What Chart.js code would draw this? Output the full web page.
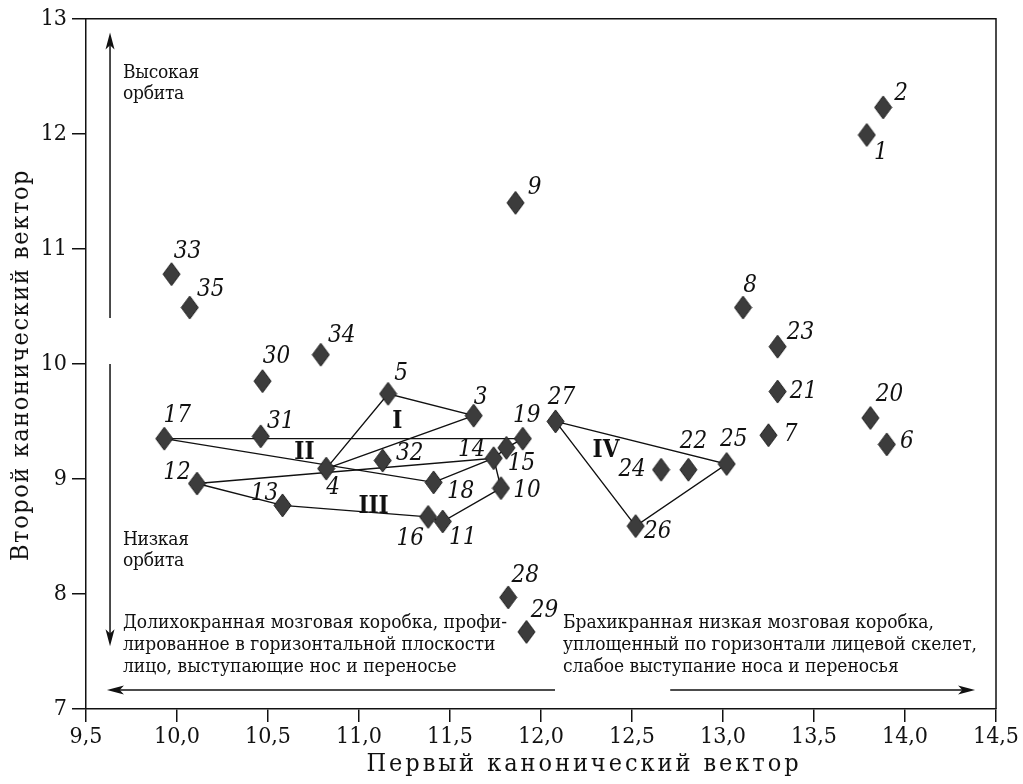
<!DOCTYPE html>
<html lang="ru">
<head>
<meta charset="utf-8">
<title>Канонический анализ</title>
<script src="https://cdn.jsdelivr.net/npm/chart.js@4.4.1/dist/chart.umd.min.js"></script>
<style>
  html, body { margin: 0; padding: 0; background: #fff; }
  canvas { display: block; }
</style>
</head>
<body>
<canvas id="grafico" width="1023" height="784"></canvas>
<script>
// номера выборок и их значения по двум каноническим векторам
const sampleIds = [1, 2, 3, 4, 5, 6, 7, 8, 9, 10, 11, 12, 13, 14, 15, 16, 17, 18,
  19, 20, 21, 22, 23, 24, 25, 26, 27, 28, 29, 30, 31, 32, 33, 34, 35];
const vector1 = [13.79, 13.88, 11.63, 10.82, 11.16, 13.90, 13.25, 13.11, 11.86, 11.78,
  11.46, 10.11, 10.58, 11.74, 11.81, 11.38, 9.93, 11.41, 11.90, 13.81, 13.30, 12.81,
  13.30, 12.66, 13.02, 12.52, 12.08, 11.82, 11.92, 10.47, 10.46, 11.13, 9.97, 10.79, 10.07];
const vector2 = [11.99, 12.23, 9.55, 9.09, 9.74, 9.30, 9.38, 10.49, 11.40, 8.92,
  8.63, 8.96, 8.77, 9.18, 9.27, 8.67, 9.35, 8.97, 9.35, 9.53, 9.76, 9.08,
  10.15, 9.08, 9.13, 8.59, 9.50, 7.97, 7.67, 9.85, 9.37, 9.16, 10.78, 10.08, 10.49];

// группы (контуры)
const groupNames = ['I', 'II', 'III', 'IV'];
const groupOutlines = [
  [4, 5, 3, 4],
  [17, 19, 15, 14, 18, 17],
  [12, 14, 10, 11, 16, 13, 12],
  [27, 25, 26, 27]
];

const xTickLabels = ['9,5', '10,0', '10,5', '11,0', '11,5', '12,0', '12,5', '13,0', '13,5', '14,0', '14,5'];
const yTickLabels = ['7', '8', '9', '10', '11', '12', '13'];

const xTitle = 'Первый канонический вектор';
const yTitle = 'Второй канонический вектор';
const highText = ['Высокая', 'орбита'];
const lowText = ['Низкая', 'орбита'];
const leftText = ['Долихокранная мозговая коробка, профи-', 'лированное в горизонтальной плоскости', 'лицо, выступающие нос и переносье'];
const rightText = ['Брахикранная низкая мозговая коробка,', 'уплощенный по горизонтали лицевой скелет,', 'слабое выступание носа и переносья'];

// смещения подписей номеров (px) — только оформление
const labelOffsets = [
  [14, 18], [18, -14], [7, -18], [7, 19], [13, -20], [20, -3], [22, 0], [7, -22], [19, -15], [26, 3],
  [20, 16], [-20, -11], [-18, -12], [-22, -8], [15, 16], [-18, 22], [13, -23], [27, 9], [4, -23], [19, -23],
  [26, 0], [5, -28], [23, -14], [-29, 0], [7, -24], [22, 6], [6, -24], [17, -22], [18, -21], [14, -24],
  [20, -15], [27, -7], [16, -22], [21, -19], [21, -18]
];
const groupLabelPos = [[11.21, 9.50], [10.70, 9.23], [11.08, 8.76], [12.357, 9.245]];

const serif = '"DejaVu Serif Condensed", "Liberation Serif", "DejaVu Serif", serif';

function pointAt(id) {
  return { x: vector1[id - 1], y: vector2[id - 1] };
}

// ромб чуть вытянутый по вертикали
const diamond = document.createElement('canvas');
diamond.width = 19;
diamond.height = 25;
(function () {
  const d = diamond.getContext('2d');
  d.beginPath();
  d.moveTo(9.5, 1);
  d.lineTo(18, 12.5);
  d.lineTo(9.5, 24);
  d.lineTo(1, 12.5);
  d.closePath();
  d.fillStyle = '#3c3c3c';
  d.fill();
  d.strokeStyle = '#1e1e1e';
  d.lineWidth = 1;
  d.stroke();
})();

const outlineSets = groupOutlines.map(function (ids) {
  return {
    data: ids.map(pointAt),
    showLine: true,
    borderColor: '#111',
    borderWidth: 1.4,
    pointRadius: 0,
    tension: 0,
    fill: false,
    order: 1
  };
});

function spacingFor(c, text, width) {
  c.letterSpacing = '0px';
  const w = c.measureText(text).width;
  return (width - w) / text.length;
}

function drawBlock(c, lines, x, y, lh, spacing) {
  c.letterSpacing = spacing + 'px';
  lines.forEach(function (t, i) { c.fillText(t, x, y + i * lh); });
  c.letterSpacing = '0px';
}

function arrow(c, x1, y1, x2, y2) {
  const a = Math.atan2(y2 - y1, x2 - x1);
  const len = 17, hw = 4.5;
  const cos = Math.cos(a), sin = Math.sin(a);
  c.beginPath();
  c.moveTo(x1, y1);
  c.lineTo(x2 - len * 0.7 * cos, y2 - len * 0.7 * sin);
  c.stroke();
  c.beginPath();
  c.moveTo(x2, y2);
  c.lineTo(x2 - len * cos + hw * sin, y2 - len * sin - hw * cos);
  c.lineTo(x2 - len * 0.75 * cos, y2 - len * 0.75 * sin);
  c.lineTo(x2 - len * cos - hw * sin, y2 - len * sin + hw * cos);
  c.closePath();
  c.fill();
}

const decor = {
  id: 'decor',
  afterDatasetsDraw(chart) {
    const c = chart.ctx;
    const xs = chart.scales.x, ys = chart.scales.y;
    const a = chart.chartArea;
    const px = v => xs.getPixelForValue(v);
    const py = v => ys.getPixelForValue(v);
    c.save();
    c.fillStyle = '#111';
    c.strokeStyle = '#111';

    // рамка сверху и справа
    c.lineWidth = 1.5;
    c.beginPath();
    c.moveTo(a.left, a.top);
    c.lineTo(a.right, a.top);
    c.lineTo(a.right, a.bottom);
    c.stroke();

    // номера выборок
    c.font = 'italic 24px ' + serif;
    c.textAlign = 'center';
    c.textBaseline = 'middle';
    const meta = chart.getDatasetMeta(0);
    meta.data.forEach(function (el, i) {
      const o = labelOffsets[i];
      c.fillText(String(sampleIds[i]), el.x + o[0], el.y + o[1]);
    });

    // римские цифры групп
    c.font = 'bold 24px ' + serif;
    groupNames.forEach(function (g, i) {
      c.fillText(g, px(groupLabelPos[i][0]), py(groupLabelPos[i][1]));
    });

    // стрелки
    c.lineWidth = 1.5;
    arrow(c, px(9.632), py(10.40), px(9.632), py(12.88));
    arrow(c, px(9.632), py(10.0), px(9.632), py(7.545));
    arrow(c, px(12.077), py(7.165), px(9.615), py(7.165));
    arrow(c, px(12.71), py(7.165), px(14.385), py(7.165));

    // пояснения
    c.textAlign = 'left';
    c.font = '19px ' + serif;
    const sOrb = spacingFor(c, highText[0], 76);
    drawBlock(c, highText, px(9.703), py(12.53), 21, sOrb);
    drawBlock(c, lowText, px(9.703), py(8.47), 21, sOrb);
    const sLeft = spacingFor(c, leftText[0], 384);
    drawBlock(c, leftText, px(9.703), py(7.745), 22, sLeft);
    const sRight = spacingFor(c, rightText[1], 414);
    drawBlock(c, rightText, px(12.121), py(7.745), 22, sRight);

    // подписи осей
    c.font = '25px ' + serif;
    c.textAlign = 'center';
    const sx = spacingFor(c, xTitle, 435);
    c.letterSpacing = sx + 'px';
    c.fillText(xTitle, 584, 764);
    const sy = spacingFor(c, yTitle, 392);
    c.letterSpacing = sy + 'px';
    c.translate(21, 365);
    c.rotate(-Math.PI / 2);
    c.fillText(yTitle, 0, 0);
    c.letterSpacing = '0px';
    c.restore();
  }
};

const ctx = document.getElementById('grafico');

new Chart(ctx, {
  type: 'scatter',
  data: {
    datasets: [{
      data: sampleIds.map(pointAt),
      pointStyle: diamond,
      pointRadius: 10,
      order: 0
    }].concat(outlineSets)
  },
  options: {
    responsive: false,
    animation: false,
    events: [],
    layout: { padding: { top: 17, right: 27, left: 0, bottom: 0 } },
    plugins: {
      legend: { display: false },
      tooltip: { enabled: false }
    },
    scales: {
      x: {
        type: 'linear',
        min: 9.5,
        max: 14.5,
        afterFit: function (s) { s.height = 75; },
        afterBuildTicks: function (s) {
          s.ticks = xTickLabels.map(function (t, i) { return { value: 9.5 + i * 0.5 }; });
        },
        ticks: {
          autoSkip: false,
          maxRotation: 0,
          padding: 1,
          color: '#111',
          font: { family: serif, size: 23 },
          callback: function (v, i) { return xTickLabels[i]; }
        },
        grid: { drawOnChartArea: false, drawTicks: true, tickLength: 13, color: '#111', lineWidth: 1.5 },
        border: { display: true, color: '#111', width: 1.5 }
      },
      y: {
        type: 'linear',
        min: 7,
        max: 13,
        afterFit: function (s) { s.width = 86; },
        afterBuildTicks: function (s) {
          s.ticks = yTickLabels.map(function (t) { return { value: Number(t) }; });
        },
        ticks: {
          autoSkip: false,
          padding: 5,
          color: '#111',
          font: { family: serif, size: 23 },
          callback: function (v, i) { return yTickLabels[i]; }
        },
        grid: { drawOnChartArea: false, drawTicks: true, tickLength: 14, color: '#111', lineWidth: 1.5 },
        border: { display: true, color: '#111', width: 1.5 }
      }
    }
  },
  plugins: [decor]
});
</script>
</body>
</html>
